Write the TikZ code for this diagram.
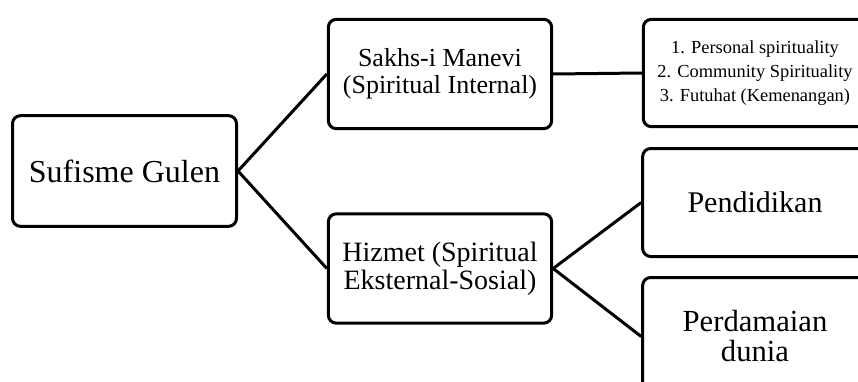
\documentclass[tikz,border=0pt]{standalone}
\usepackage{fontspec}
\setmainfont{Liberation Serif}

\begin{document}
\begin{tikzpicture}[x=0.75pt, y=-0.75pt,
        box/.style={draw, line width=2.25pt, rounded corners=6pt, align=center,
            inner sep=0pt, minimum width=167.5pt, minimum height=82pt},
        link/.style={line width=2.25pt}]
        \useasboundingbox (0,0) rectangle (858,382);
        \node[box, minimum width=168pt, minimum height=83pt,
              font=\fontsize{24}{26}\selectfont] (sg) at (124.5, 171) {Sufisme Gulen};
        \node[box, font=\fontsize{19.5}{20.5}\selectfont] (sm) at (440, 74)
            {Sakhs-i Manevi\\(Spiritual Internal)};
        \node[box, font=\fontsize{21}{21}\selectfont] (hz) at (440, 268.5)
            {Hizmet (Spiritual\\Eksternal-Sosial)};
        \node[box, minimum height=80.5pt, font=\fontsize{13.8}{18}\selectfont] (ls) at (755, 73)
            {1. Personal spirituality\\2. Community Spirituality\\3. Futuhat (Kemenangan)};
        \node[box, minimum width=168.5pt, minimum height=81pt,
              font=\fontsize{22.5}{24}\selectfont] (pd) at (755, 202.5) {Pendidikan};
        \node[box, minimum width=168.5pt, minimum height=88.5pt,
              font=\fontsize{23}{22.5}\selectfont] (pw) at (755, 336.5)
            {Perdamaian\\dunia};
        \draw[link] (sg.east) -- (sm.west);
        \draw[link] (sg.east) -- (hz.west);
        \draw[link] (sm.east) -- (ls.west);
        \draw[link] (hz.east) -- (pd.west);
        \draw[link] (hz.east) -- (pw.west);
\end{tikzpicture}
\end{document}
